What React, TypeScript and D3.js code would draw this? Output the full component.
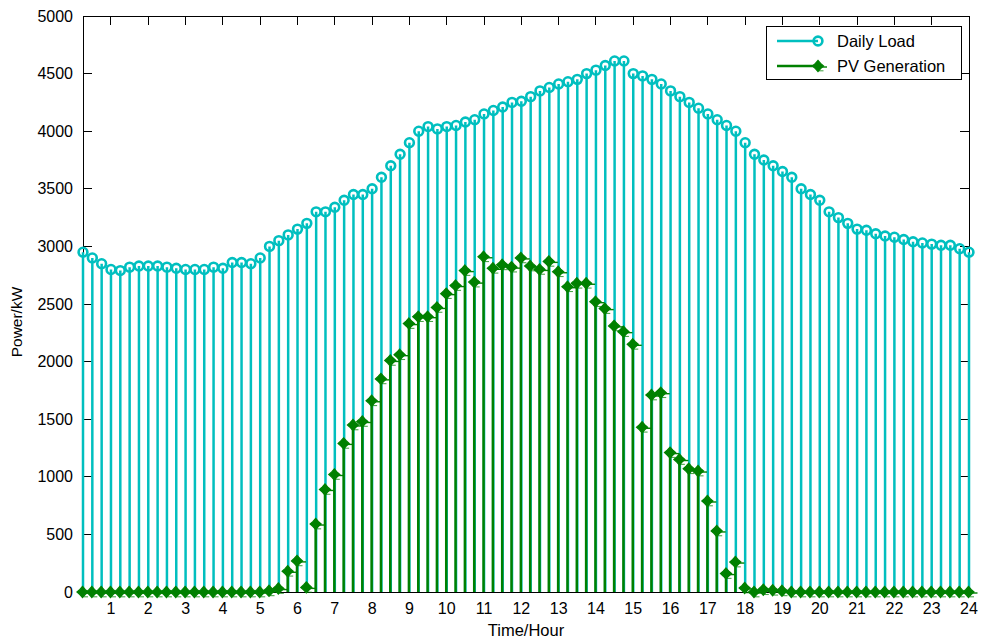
import React from 'react';
import * as d3 from 'd3';

// 15-minute samples from 0:15 to 24:00
const timeStepHours = 0.25;

const loadKW = [
  2950, 2900, 2850, 2800, 2790, 2820, 2830, 2830, 2830, 2820, 2810, 2800,
  2800, 2800, 2820, 2810, 2860, 2860, 2850, 2900, 3000, 3050, 3100, 3150,
  3200, 3300, 3300, 3340, 3400, 3450, 3450, 3500, 3600, 3700, 3800, 3900,
  4000, 4040, 4020, 4040, 4050, 4080, 4100, 4150, 4180, 4210, 4250, 4260,
  4300, 4350, 4380, 4410, 4430, 4450, 4500, 4530, 4570, 4610, 4610, 4500,
  4480, 4450, 4410, 4350, 4300, 4250, 4200, 4150, 4100, 4050, 4000, 3900,
  3800, 3750, 3700, 3650, 3600, 3500, 3450, 3400, 3300, 3250, 3200, 3150,
  3140, 3110, 3090, 3080, 3060, 3040, 3030, 3020, 3010, 3010, 2980, 2950,
];

const pvKW = [
  0, 0, 0, 0, 0, 0, 0, 0, 0, 0, 0, 0,
  0, 0, 0, 0, 0, 0, 0, 0, 10, 30, 180, 270,
  40, 590, 890, 1020, 1290, 1450, 1480, 1660, 1850, 2010, 2060, 2330,
  2390, 2390, 2470, 2590, 2660, 2790, 2690, 2910, 2810, 2840, 2820, 2900,
  2830, 2800, 2870, 2780, 2650, 2680, 2680, 2520, 2460, 2310, 2260, 2150,
  1430, 1710, 1730, 1210, 1150, 1070, 1050, 790, 530, 160, 260, 35,
  0, 20, 15, 10, 0, 0, 0, 0, 0, 0, 0, 0,
  0, 0, 0, 0, 0, 0, 0, 0, 0, 0, 0, 0,
];

const xTicks = [1, 2, 3, 4, 5, 6, 7, 8, 9, 10, 11, 12, 13, 14, 15, 16, 17, 18, 19, 20, 21, 22, 23, 24];
const yTicks = [0, 500, 1000, 1500, 2000, 2500, 3000, 3500, 4000, 4500, 5000];

const seriesNames = ['Daily Load', 'PV Generation'];
const xLabel = 'Time/Hour';
const yLabel = 'Power/kW';

const LOAD_COLOR = '#00BFBF';
const PV_COLOR = '#008000';
const FONT = '"Liberation Sans", Arial, Helvetica, sans-serif';

const W = 982;
const H = 641;
const L = 83;
const R = 969;
const T = 16;
const B = 592;

const times = loadKW.map((_, i) => (i + 1) * timeStepHours);

const x = d3.scaleLinear().domain([0.25, 24]).range([L, R]);
const y = d3.scaleLinear().domain([0, 5000]).range([B, T]);

const starPath = 'M0,-5.5 L2.6,-2.6 L5.5,0 L2.6,2.6 L0,5.5 L-2.6,2.6 L-5.5,0 L-2.6,-2.6 Z';

function PvMarker({ cx, cy }: { cx: number; cy: number }) {
  return (
    <g transform={`translate(${cx},${cy})`}>
      <path d={starPath} fill={PV_COLOR} stroke={PV_COLOR} strokeWidth={1.3} />
      <line x1={3} x2={9} y1={1} y2={1} stroke={PV_COLOR} strokeWidth={1.4} />
      <line x1={1} x2={5.5} y1={4.8} y2={4.8} stroke={PV_COLOR} strokeWidth={1.1} opacity={0.7} />
    </g>
  );
}

export default function App() {
  const tickLen = 9;
  return (
    <div style={{ position: 'fixed', left: 0, top: 0, width: W, height: H, background: '#fff' }}>
      <svg width={W} height={H} style={{ display: 'block' }} fontFamily={FONT}>
        <rect x={0} y={0} width={W} height={H} fill="#fff" />
        {/* axes frame and ticks */}
        <g stroke="#000" strokeWidth={1} fill="none" shapeRendering="crispEdges">
          <rect x={L} y={T} width={R - L} height={B - T} />
          {xTicks.map((t) => (
            <g key={'xt' + t}>
              <line x1={x(t)} x2={x(t)} y1={B} y2={B - tickLen} />
              <line x1={x(t)} x2={x(t)} y1={T} y2={T + tickLen} />
            </g>
          ))}
          {yTicks.map((t) => (
            <g key={'yt' + t}>
              <line x1={L} x2={L + tickLen} y1={y(t)} y2={y(t)} />
              <line x1={R} x2={R - tickLen} y1={y(t)} y2={y(t)} />
            </g>
          ))}
        </g>
        {/* tick labels */}
        <g fontSize={16} fill="#000">
          {xTicks.map((t) => (
            <text key={'xl' + t} x={x(t)} y={614} textAnchor="middle">{t}</text>
          ))}
          {yTicks.map((t) => (
            <text key={'yl' + t} x={73} y={y(t) + 5.5} textAnchor="end">{t}</text>
          ))}
        </g>
        <text x={(L + R) / 2} y={636} textAnchor="middle" fontSize={16.5}>{xLabel}</text>
        <text transform={`translate(22,322) rotate(-90)`} textAnchor="middle" fontSize={15.5}>{yLabel}</text>

        {/* Daily load stems */}
        <g>
          {loadKW.map((v, i) => (
            <line key={'ls' + i} x1={x(times[i])} x2={x(times[i])} y1={y(0)} y2={y(v)} stroke={LOAD_COLOR} strokeWidth={2.5} />
          ))}
          {loadKW.map((v, i) => (
            <circle key={'lc' + i} cx={x(times[i])} cy={y(v)} r={4.4} fill="none" stroke={LOAD_COLOR} strokeWidth={2.6} />
          ))}
        </g>
        {/* PV stems */}
        <g>
          {pvKW.map((v, i) => (
            <line key={'ps' + i} x1={x(times[i]) - 0.5} x2={x(times[i]) - 0.5} y1={y(0)} y2={y(v)} stroke={PV_COLOR} strokeWidth={2.5} />
          ))}
          <line x1={L} x2={R} y1={y(0)} y2={y(0)} stroke="#000" strokeWidth={1} shapeRendering="crispEdges" />
          {pvKW.map((v, i) => (
            <PvMarker key={'pm' + i} cx={x(times[i]) - 0.5} cy={y(v)} />
          ))}
        </g>

        {/* legend */}
        <g>
          <rect x={766.5} y={26.5} width={195} height={53} fill="#fff" stroke="#000" strokeWidth={1} shapeRendering="crispEdges" />
          <line x1={777} x2={818} y1={41} y2={41} stroke={LOAD_COLOR} strokeWidth={2.5} />
          <circle cx={818} cy={41} r={4.4} fill="none" stroke={LOAD_COLOR} strokeWidth={2.6} />
          <text x={837} y={47} fontSize={16.5}>{seriesNames[0]}</text>
          <line x1={777} x2={818} y1={66} y2={66} stroke={PV_COLOR} strokeWidth={2.5} />
          <PvMarker cx={818} cy={66} />
          <text x={837} y={72} fontSize={16.5}>{seriesNames[1]}</text>
        </g>
      </svg>
    </div>
  );
}
